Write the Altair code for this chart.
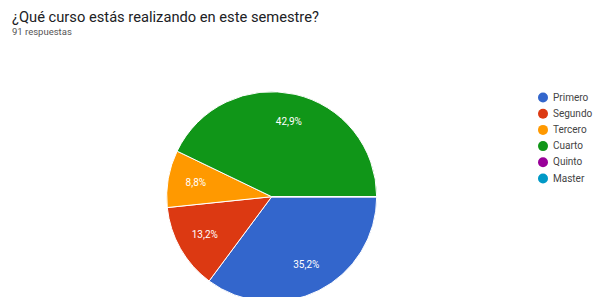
import math
import altair as alt
import pandas as pd

categories = ["Primero", "Segundo", "Tercero", "Cuarto", "Quinto", "Master"]
counts = [32, 12, 8, 39, 0, 0]
labels = ["35,2%", "13,2%", "8,8%", "42,9%", "", ""]
colors = ["#3366cc", "#dc3912", "#ff9900", "#109618", "#990099", "#0099c6"]
orden = [0, 1, 2, 3, 4, 5]

df = pd.DataFrame({"curso": categories, "n": counts, "label": labels, "orden": orden})

PAD_TOP = 36
CX, CY = 263.7, 196.7 - 8 - PAD_TOP

theta = alt.Theta("n:Q", stack=True,
                  scale=alt.Scale(range=[math.pi / 2, math.pi / 2 + 2 * math.pi]))

pie = alt.Chart(df).mark_arc(outerRadius=105, stroke="white", strokeWidth=1, x=CX, y=CY).encode(
    theta=theta,
    order=alt.Order("orden:Q"),
    color=alt.Color("curso:N", sort=categories,
                    scale=alt.Scale(domain=categories, range=colors),
                    legend=alt.Legend(title=None, orient="none", legendX=530, legendY=97.5 - 8 - PAD_TOP - 5,
                                      symbolType="circle", symbolSize=100, symbolStrokeWidth=0,
                                      labelFontSize=10, labelColor="#444", labelFont="Roboto",
                                      rowPadding=6.2, labelOffset=5, padding=0)),
)

text = alt.Chart(df).mark_text(radius=77, x=CX, y=CY, color="white", fontSize=10, font="Roboto").encode(
    theta=theta,
    order=alt.Order("orden:Q"),
    detail="curso:N",
    text="label:N",
)

chart = alt.layer(pie, text).properties(
    width=598, height=253,
    padding={"left": 0, "top": PAD_TOP, "right": 0, "bottom": 0},
    autosize=alt.AutoSizeParams(type="none"),
    title=alt.TitleParams(
        text="¿Qué curso estás realizando en este semestre?",
        subtitle="91 respuestas",
        anchor="start", frame="group", dx=4, offset=8,
        font="Roboto", fontSize=14.7, fontWeight="normal", color="#202124",
        subtitleFont="Roboto", subtitleFontSize=9.5, subtitleColor="#555", subtitlePadding=2,
    ),
).configure_view(stroke=None)

chart.save("out.html", embed_options={"renderer": "svg", "actions": False})
